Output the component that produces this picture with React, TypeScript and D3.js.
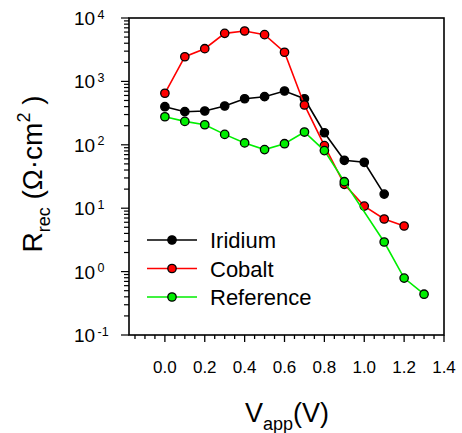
import React from "react";
import * as d3 from "d3";

// applied voltage (V)
const vIridium = [0, 0.1, 0.2, 0.3, 0.4, 0.5, 0.6, 0.7, 0.8, 0.9, 1.0, 1.1];
const rIridium = [399, 333, 341, 409, 533, 574, 706, 533, 155, 57, 53, 16.7];

const vCobalt = [0, 0.1, 0.2, 0.3, 0.4, 0.5, 0.6, 0.7, 0.8, 0.9, 1.0, 1.1, 1.2];
const rCobalt = [650, 2450, 3280, 5730, 6240, 5460, 2880, 425, 97, 23.8, 10.8, 6.76, 5.24];

const vReference = [0, 0.1, 0.2, 0.3, 0.4, 0.5, 0.6, 0.7, 0.8, 0.9, 1.1, 1.2, 1.3];
const rReference = [277, 234, 207, 146, 107, 84, 104, 159, 81, 26.2, 2.93, 0.79, 0.44];

const xTickLabels = ["0.0", "0.2", "0.4", "0.6", "0.8", "1.0", "1.2", "1.4"];
const yExponents = [4, 3, 2, 1, 0, -1];

const series = [
  { name: "Iridium", color: "#000000", v: vIridium, r: rIridium },
  { name: "Cobalt", color: "#ff0000", v: vCobalt, r: rCobalt },
  { name: "Reference", color: "#00ee00", v: vReference, r: rReference },
];

const W = 462;
const H = 433;
const left = 129;
const right = 444;
const top = 18;
const bottom = 335;
const font = "'Liberation Sans', Arial, sans-serif";

export default function App() {
  const x = d3.scaleLinear().domain([-0.18, 1.4]).range([left, right]);
  const y = d3.scaleLog().domain([0.1, 1e4]).range([bottom, top]);

  const line = d3
    .line<[number, number]>()
    .x((d) => x(d[0]))
    .y((d) => y(d[1]));

  // minor ticks every 0.05 V, majors every 0.2 V
  const xMinor = d3.range(-3, 29).map((i) => i * 0.05);
  const yMinor = y.ticks();

  return (
    <svg
      width={W}
      height={H}
      style={{ position: "absolute", left: 0, top: 0, background: "#fff" }}
      fontFamily={font}
    >
      {/* series */}
      {series.map((s) => {
        const pts = s.v.map((v, i) => [v, s.r[i]] as [number, number]);
        return (
          <g key={s.name}>
            <path d={line(pts) || ""} fill="none" stroke={s.color} strokeWidth={1.6} />
            {pts.map((p, i) => (
              <circle key={i} cx={x(p[0])} cy={y(p[1])} r={4.2} fill={s.color} stroke="#000" strokeWidth={1.3} />
            ))}
          </g>
        );
      })}

      {/* frame */}
      <rect x={left} y={top} width={right - left} height={bottom - top} fill="none" stroke="#000" strokeWidth={1.6} />

      {/* x ticks */}
      {xMinor.map((t, i) => {
        const major = Math.abs(t / 0.2 - Math.round(t / 0.2)) < 1e-6;
        return (
          <line key={i} x1={x(t)} x2={x(t)} y1={bottom} y2={bottom + (major ? 7 : 4)} stroke="#000" strokeWidth={1.3} />
        );
      })}
      {xTickLabels.map((l) => (
        <text key={l} x={x(+l)} y={373} textAnchor="middle" fontSize={17}>
          {l}
        </text>
      ))}

      {/* y ticks */}
      {yMinor.map((t, i) => {
        const major = Math.abs(Math.log10(t) - Math.round(Math.log10(t))) < 1e-6;
        return (
          <line key={i} x1={left - (major ? 8 : 5)} x2={left} y1={y(t)} y2={y(t)} stroke="#000" strokeWidth={1.2} />
        );
      })}
      {yExponents.map((e) => (
        <g key={e}>
          <text x={74} y={y(Math.pow(10, e)) + 7} fontSize={19}>
            10
          </text>
          <text x={97.5} y={y(Math.pow(10, e)) + 0.5} fontSize={12.5}>
            {e < 0 ? "-" + Math.abs(e) : e}
          </text>
        </g>
      ))}

      {/* axis titles */}
      <text x={287} y={422} textAnchor="middle" fontSize={27}>
        V<tspan fontSize={18} dy={8}>app</tspan>
        <tspan dy={-8}>(V)</tspan>
      </text>
      <text transform={`translate(42,174) rotate(-90)`} textAnchor="middle" fontSize={28}>
        R<tspan fontSize={18} dy={8}>rec</tspan>
        <tspan dy={-8}> (Ω·cm</tspan>
        <tspan fontSize={18} dy={-12}>2</tspan>
        <tspan dy={12}> )</tspan>
      </text>

      {/* legend */}
      {series.map((s, i) => {
        const ly = 240 + i * 28.5;
        return (
          <g key={s.name}>
            <line x1={147} x2={197} y1={ly} y2={ly} stroke={s.color} strokeWidth={1.6} />
            <circle cx={172} cy={ly} r={4.2} fill={s.color} stroke="#000" strokeWidth={1.3} />
            <text x={210} y={ly + 8} fontSize={22}>
              {s.name}
            </text>
          </g>
        );
      })}
    </svg>
  );
}
